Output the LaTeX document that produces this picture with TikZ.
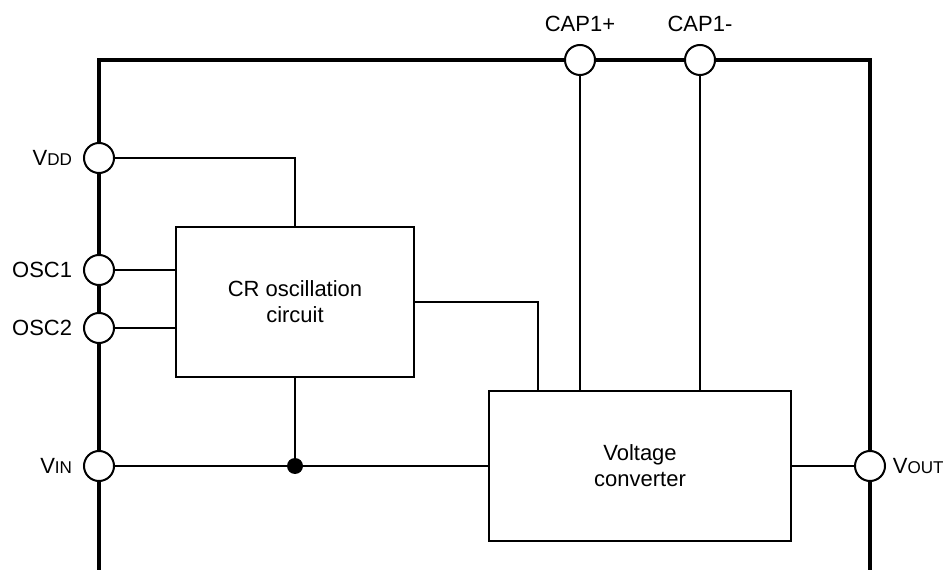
\documentclass[tikz,border=0pt]{standalone}
\usepackage{fontspec}
\setmainfont{Liberation Sans}
\usetikzlibrary{positioning}

\newcommand{\subcaps}[1]{{\fontsize{12.8}{14}\selectfont #1}}

\begin{document}
\begin{tikzpicture}[x=0.75pt,y=-0.75pt,font=\fontsize{16.5}{19.5}\selectfont,
  term/.style={circle,draw,line width=1.5pt,fill=white,minimum size=22.5pt,inner sep=0pt},
  block/.style={draw,line width=1.1pt,align=center,inner sep=0pt},
  wire/.style={line width=1.1pt},
  lbl/.style={inner sep=0pt},
  junction/.style={circle,fill=black,minimum size=12pt,inner sep=0pt}]
\useasboundingbox (0,0) rectangle (943,570);
% package outline
\draw[line width=3pt] (99,570) -- (99,60) -- (870,60) -- (870,570);
% blocks
\node[block,minimum width=178.5pt,minimum height=112.5pt] (osc) at (295,302) {CR oscillation\\circuit};
\node[block,minimum width=226.5pt,minimum height=112.5pt] (conv) at (640,466) {Voltage\\converter};
% pins
\node[term] (vdd)  at (99,158) {};
\node[term] (osc1) at (99,270) {};
\node[term] (osc2) at (99,328) {};
\node[term] (vin)  at (99,466) {};
\node[term] (vout) at (870,466) {};
\node[term] (capp) at (580,60) {};
\node[term] (capm) at (700,60) {};
\node[lbl,left=8pt of vdd]  {V\subcaps{DD}};
\node[lbl,left=8pt of osc1] {OSC1};
\node[lbl,left=8pt of osc2] {OSC2};
\node[lbl,left=8pt of vin]  {V\subcaps{IN}};
\node[lbl,right=5pt of vout] {V\subcaps{OUT}};
\node[lbl,above=9pt of capp] {CAP1+};
\node[lbl,above=9pt of capm] {CAP1-};
% wiring
\node[junction] (jn) at (osc.south |- vin) {};
\coordinate (tap) at (538,391);
\draw[wire] (vdd) -| (osc.north);
\draw[wire] (osc1) -- (osc1 -| osc.west);
\draw[wire] (osc2) -- (osc2 -| osc.west);
\draw[wire] (osc.south) -- (jn);
\draw[wire] (vin) -- (conv.west);
\draw[wire] (osc.east) -| (tap);
\draw[wire] (capp) -- (capp |- conv.north);
\draw[wire] (capm) -- (capm |- conv.north);
\draw[wire] (conv.east) -- (vout);
\end{tikzpicture}
\end{document}
